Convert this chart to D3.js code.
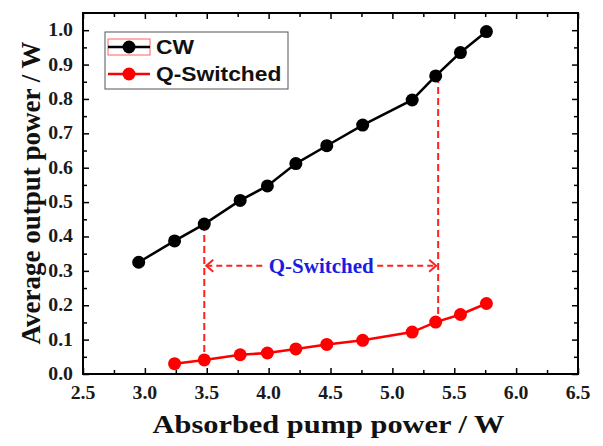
<html>
<head>
<script src="https://d3js.org/d3.v7.min.js"></script>
<style>
    body { margin: 0; background: #fff; }
    .axis .domain { display: none; }
    .axis line { stroke: #000; stroke-width: 1.5; }
</style>
</head>
<body>
<svg id="chart" width="603" height="446"></svg>
<script>
// data
const cwX = [2.95, 3.24, 3.48, 3.77, 3.99, 4.22, 4.47, 4.76, 5.16, 5.35, 5.55, 5.76];
const cwY = [0.325, 0.387, 0.436, 0.505, 0.547, 0.612, 0.664, 0.724, 0.797, 0.867, 0.935, 0.996];
const qsX = [3.24, 3.48, 3.77, 3.99, 4.22, 4.47, 4.76, 5.16, 5.35, 5.55, 5.76];
const qsY = [0.030, 0.041, 0.056, 0.061, 0.073, 0.086, 0.098, 0.122, 0.151, 0.173, 0.205];
const xTicks = [2.5, 3.0, 3.5, 4.0, 4.5, 5.0, 5.5, 6.0, 6.5];
const yTicks = [0.0, 0.1, 0.2, 0.3, 0.4, 0.5, 0.6, 0.7, 0.8, 0.9, 1.0];
// Q-switched range markers
const qsStart = {x: 3.48, yTop: 0.436, yBottom: 0.045};
const qsEnd = {x: 5.37, yTop: 0.867, yBottom: 0.155};
const arrowY = 0.315;

// the original figure is a bit wider than tall, text looks stretched
const stretch = 1.17;

const svg = d3.select("svg#chart");
const width = +svg.attr("width");
const height = +svg.attr("height");
const margin = {top: 13, right: 25, bottom: 72, left: 83};
const w = width - margin.left - margin.right;
const h = height - margin.top - margin.bottom;

const x = d3.scaleLinear().domain([2.5, 6.5]).range([0, w]);
const y = d3.scaleLinear().domain([0, 1.05]).range([h, 0]);

const g = svg.append("g").attr("transform", `translate(${margin.left},${margin.top})`);

// minor ticks
const xMinor = d3.range(2.75, 6.5, 0.5);
const yMinor = d3.range(0.05, 1.05, 0.1);
const noLabel = () => "";

// tick marks on all four sides, pointing inward
g.append("g").attr("class", "axis").attr("transform", `translate(0,${h})`)
    .call(d3.axisBottom(x).tickValues(xTicks).tickSize(-6).tickFormat(noLabel));
g.append("g").attr("class", "axis").attr("transform", `translate(0,${h})`)
    .call(d3.axisBottom(x).tickValues(xMinor).tickSize(-4).tickFormat(noLabel));
g.append("g").attr("class", "axis")
    .call(d3.axisTop(x).tickValues(xTicks).tickSize(-6).tickFormat(noLabel));
g.append("g").attr("class", "axis")
    .call(d3.axisTop(x).tickValues(xMinor).tickSize(-4).tickFormat(noLabel));
g.append("g").attr("class", "axis")
    .call(d3.axisLeft(y).tickValues(yTicks).tickSize(-6).tickFormat(noLabel));
g.append("g").attr("class", "axis")
    .call(d3.axisLeft(y).tickValues(yMinor).tickSize(-4).tickFormat(noLabel));
g.append("g").attr("class", "axis").attr("transform", `translate(${w},0)`)
    .call(d3.axisRight(y).tickValues(yTicks).tickSize(-6).tickFormat(noLabel));
g.append("g").attr("class", "axis").attr("transform", `translate(${w},0)`)
    .call(d3.axisRight(y).tickValues(yMinor).tickSize(-4).tickFormat(noLabel));

// tick labels
const fmt = d3.format(".1f");
g.selectAll("text.xlab").data(xTicks).join("text")
    .attr("class", "xlab")
    .attr("transform", d => `translate(${x(d)},${h + 25}) scale(1.1,1)`)
    .attr("text-anchor", "middle")
    .style("font-family", "Liberation Serif, serif")
    .style("font-weight", "bold").style("font-size", "18px")
    .style("fill", "#1a1a1a")
    .text(fmt);
g.selectAll("text.ylab").data(yTicks).join("text")
    .attr("class", "ylab")
    .attr("transform", d => `translate(-10,${y(d) + 6}) scale(1.1,1)`)
    .attr("text-anchor", "end")
    .style("font-family", "Liberation Serif, serif")
    .style("font-weight", "bold").style("font-size", "18px")
    .style("fill", "#1a1a1a")
    .text(fmt);

// frame
g.append("rect").attr("width", w).attr("height", h)
    .attr("fill", "none").attr("stroke", "#000").attr("stroke-width", 2);

// dashed Q-switched markers
const red = "#ff2020";
[qsStart, qsEnd].forEach(m => {
    g.append("line")
        .attr("x1", x(m.x)).attr("x2", x(m.x))
        .attr("y1", y(m.yTop)).attr("y2", y(m.yBottom))
        .attr("stroke", red).attr("stroke-width", 2)
        .attr("stroke-dasharray", "7,4");
});

const labelX = (x(qsStart.x) + x(qsEnd.x)) / 2;
const ay = y(arrowY);
g.append("line")
    .attr("x1", x(qsStart.x) + 2).attr("x2", labelX - 56)
    .attr("y1", ay).attr("y2", ay)
    .attr("stroke", red).attr("stroke-width", 2).attr("stroke-dasharray", "6,4");
g.append("line")
    .attr("x1", labelX + 56).attr("x2", x(qsEnd.x) - 2)
    .attr("y1", ay).attr("y2", ay)
    .attr("stroke", red).attr("stroke-width", 2).attr("stroke-dasharray", "6,4");
// arrow heads
g.append("path")
    .attr("d", `M${x(qsStart.x) + 9},${ay - 6} L${x(qsStart.x) + 2},${ay} L${x(qsStart.x) + 9},${ay + 6}`)
    .attr("fill", "none").attr("stroke", red).attr("stroke-width", 2);
g.append("path")
    .attr("d", `M${x(qsEnd.x) - 9},${ay - 6} L${x(qsEnd.x) - 2},${ay} L${x(qsEnd.x) - 9},${ay + 6}`)
    .attr("fill", "none").attr("stroke", red).attr("stroke-width", 2);
g.append("text")
    .attr("transform", `translate(${labelX},${ay + 7}) scale(1.05,1)`)
    .attr("text-anchor", "middle")
    .style("font-family", "Liberation Serif, serif")
    .style("font-weight", "bold")
    .style("font-size", "20px")
    .style("fill", "#1c1ce0")
    .text("Q-Switched");

// series
const series = [
    {name: "CW", xs: cwX, ys: cwY, color: "#000"},
    {name: "Q-Switched", xs: qsX, ys: qsY, color: "#ff0000"}
];
const lineGen = d3.line().x(d => x(d[0])).y(d => y(d[1]));
series.forEach(s => {
    const pts = s.xs.map((v, i) => [v, s.ys[i]]);
    g.append("path").datum(pts)
        .attr("fill", "none").attr("stroke", s.color).attr("stroke-width", 2.5)
        .attr("d", lineGen);
    g.selectAll(null).data(pts).join("circle")
        .attr("cx", d => x(d[0])).attr("cy", d => y(d[1]))
        .attr("r", 6.5).attr("fill", s.color);
});

// legend
const legend = svg.append("g").attr("transform", "translate(105,32)");
legend.append("rect").attr("width", 183).attr("height", 57)
    .attr("fill", "#fff").attr("stroke", "#555").attr("stroke-width", 1);
series.forEach((s, i) => {
    const ly = 15 + i * 27;
    if (i === 0) {
        legend.append("rect").attr("x", 3).attr("y", ly - 8).attr("width", 42).attr("height", 16)
            .attr("fill", "none").attr("stroke", "#ff6060").attr("stroke-width", 1);
    }
    legend.append("line").attr("x1", 3).attr("x2", 45).attr("y1", ly).attr("y2", ly)
        .attr("stroke", s.color).attr("stroke-width", 2.5);
    legend.append("circle").attr("cx", 24).attr("cy", ly).attr("r", 6.5).attr("fill", s.color);
    legend.append("text")
        .attr("transform", `translate(51,${ly + 7}) scale(1.14,1)`)
        .style("font-family", "Liberation Sans, Arial, sans-serif")
        .style("font-weight", "bold").style("font-size", "20px")
        .style("fill", "#111")
        .text(s.name);
});

// axis titles
svg.append("text")
    .attr("transform", `translate(${margin.left + w / 2 - 2},433) scale(${stretch},1)`)
    .attr("text-anchor", "middle")
    .style("font-family", "Liberation Serif, serif")
    .style("font-weight", "bold").style("font-size", "26px")
    .style("fill", "#111")
    .text("Absorbed pump power / W");
svg.append("text")
    .attr("transform", "translate(40,193) rotate(-90)")
    .attr("text-anchor", "middle")
    .style("font-family", "Liberation Serif, serif")
    .style("font-weight", "bold").style("font-size", "27px")
    .style("fill", "#111")
    .text("Average output power / W");
</script>
</body>
</html>
